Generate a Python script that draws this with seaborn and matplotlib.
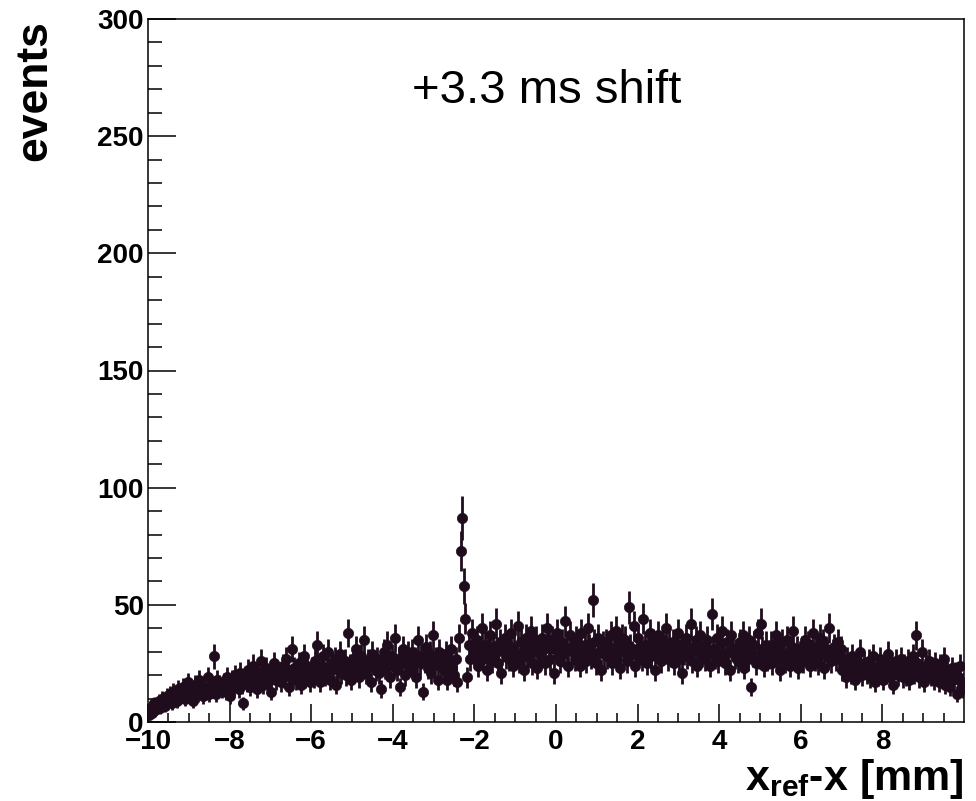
import numpy as np
import pandas as pd
import matplotlib
matplotlib.use("Agg")
import matplotlib.pyplot as plt
import seaborn as sns

# histogram range and counts per bin (500 bins, 0.04 mm each)
x_lo, x_hi = -10.0, 10.0
counts = [
    3, 6, 4, 8, 5, 7, 9, 6, 10, 8, 7, 11, 9, 12, 8, 13, 10, 9, 14, 11,
    12, 15, 10, 13, 17, 11, 14, 9, 16, 13, 12, 18, 14, 11, 15, 13, 19, 12, 16, 14,
    28, 12, 18, 16, 15, 14, 17, 13, 19, 16, 11, 18, 15, 20, 17, 14, 21, 16, 8, 19,
    17, 22, 15, 19, 24, 18, 14, 21, 19, 26, 16, 20, 23, 17, 19, 13, 22, 25, 18, 20,
    21, 17, 24, 19, 27, 22, 15, 20, 31, 23, 18, 21, 25, 16, 22, 28, 19, 24, 21, 17,
    23, 19, 26, 33, 21, 17, 24, 28, 20, 22, 30, 18, 25, 23, 27, 16, 22, 29, 21, 24,
    26, 20, 38, 24, 18, 27, 22, 31, 25, 19, 28, 23, 35, 21, 26, 24, 17, 29, 25, 22,
    27, 21, 14, 25, 30, 23, 33, 26, 19, 28, 24, 36, 22, 27, 15, 25, 31, 20, 26, 29,
    24, 30, 22, 27, 19, 35, 25, 28, 13, 26, 32, 23, 29, 21, 37, 25, 27, 18, 30, 24,
    26, 22, 29, 18, 25, 31, 23, 20, 27, 17, 36, 73, 87, 58, 44, 19, 33, 27, 38, 30,
    28, 35, 24, 31, 40, 27, 33, 22, 30, 37, 26, 32, 29, 42, 25, 34, 21, 31, 36, 28,
    33, 27, 38, 24, 31, 29, 41, 26, 34, 30, 22, 36, 28, 32, 39, 25, 31, 35, 23, 30,
    29, 36, 31, 25, 40, 33, 27, 35, 21, 32, 38, 30, 26, 34, 29, 43, 31, 24, 37, 32,
    30, 27, 35, 31, 24, 38, 29, 33, 26, 40, 32, 28, 52, 34, 25, 36, 30, 22, 33, 29,
    34, 28, 32, 37, 25, 31, 39, 27, 33, 23, 36, 30, 35, 26, 49, 32, 29, 41, 24, 31,
    36, 30, 27, 44, 33, 25, 31, 38, 28, 34, 22, 32, 37, 29, 26, 35, 31, 40, 27, 33,
    29, 34, 25, 31, 38, 27, 33, 21, 30, 36, 28, 32, 42, 26, 31, 35, 24, 30, 37, 29,
    32, 27, 35, 30, 24, 46, 31, 28, 36, 26, 33, 39, 29, 25, 34, 30, 22, 37, 31, 28,
    30, 26, 34, 28, 37, 23, 31, 27, 35, 15, 29, 33, 25, 38, 28, 42, 31, 24, 33, 27,
    28, 33, 25, 30, 37, 27, 31, 22, 34, 29, 26, 35, 30, 24, 32, 39, 27, 31, 23, 29,
    31, 26, 35, 28, 33, 24, 30, 38, 27, 32, 25, 36, 29, 34, 23, 31, 28, 40, 26, 30,
    32, 27, 34, 29, 31, 22, 25, 19, 27, 23, 21, 28, 24, 18, 26, 22, 30, 20, 25, 23,
    21, 26, 19, 24, 28, 17, 23, 20, 27, 22, 18, 25, 21, 29, 19, 24, 16, 23, 26, 20,
    22, 27, 19, 24, 20, 26, 18, 23, 28, 21, 37, 25, 19, 22, 30, 17, 24, 21, 26, 20,
    23, 18, 25, 21, 17, 24, 19, 27, 16, 22, 20, 15, 23, 18, 21, 12, 19, 24, 17, 14,
]
x_ticks = [-10, -8, -6, -4, -2, 0, 2, 4, 6, 8]
y_ticks = [0, 50, 100, 150, 200, 250, 300]
annotation = "+3.3 ms shift"

sns.set_theme(style="ticks")
plt.rcParams['font.family'] = ['Liberation Sans', 'DejaVu Sans']
plt.rcParams['mathtext.fontset'] = 'custom'
plt.rcParams['mathtext.bf'] = 'Liberation Sans:bold'
plt.rcParams['mathtext.rm'] = 'Liberation Sans'

counts = np.array(counts, dtype=float)
edges = np.linspace(x_lo, x_hi, len(counts) + 1)
hist = pd.DataFrame({
    'x': 0.5 * (edges[:-1] + edges[1:]),
    'events': counts,
    'err': np.sqrt(counts),
})

col = '#1f0d1d'
fig = plt.figure(figsize=(9.76, 8.01), dpi=100)
ax = fig.add_axes([148 / 976, 79 / 801, 816 / 976, 703 / 801])

ax.errorbar(hist['x'], hist['events'], yerr=hist['err'], fmt='none',
            ecolor=col, elinewidth=2.0, capsize=0, zorder=2)
sns.scatterplot(data=hist, x='x', y='events', ax=ax, color=col, s=55,
                edgecolor=col, linewidth=0.5, zorder=3, legend=False)

ax.set_xlim(x_lo, x_hi)
ax.set_ylim(0, 300)
ax.set_xticks(x_ticks)
ax.set_yticks(y_ticks)
ax.set_xticks(np.arange(-9.5, 10, 0.5), minor=True)
ax.set_yticks(np.arange(0, 301, 10), minor=True)
ax.set_xlabel('')
ax.set_ylabel('')

for lab in ax.get_xticklabels() + ax.get_yticklabels():
    lab.set_fontweight('bold')
    lab.set_fontsize(20)
    lab.set_color('black')
ax.tick_params(axis='both', which='both', direction='in', width=1.1, colors='black',
               top=False, right=False)
ax.tick_params(axis='x', which='major', length=13, pad=5)
ax.tick_params(axis='x', which='minor', length=6.5)
ax.tick_params(axis='y', which='major', length=20, pad=3)
ax.tick_params(axis='y', which='minor', length=10)
for s in ax.spines.values():
    s.set_visible(True)
    s.set_linewidth(1.1)
    s.set_color('black')

ax.text(0.488, 0.88, annotation, transform=ax.transAxes, ha='center',
        va='baseline', fontsize=34, color='black')

fig.text(35 / 976, 1 - 20 / 801, 'events', rotation=90, ha='center', va='top',
         fontsize=32, fontweight='bold', color='black')
fig.text(964 / 976, 11 / 801, r'$\mathbf{x}_{\mathbf{ref}}$-x [mm]', ha='right',
         va='baseline', fontsize=31, fontweight='bold', color='black')

fig.savefig('out.png', dpi=100)
